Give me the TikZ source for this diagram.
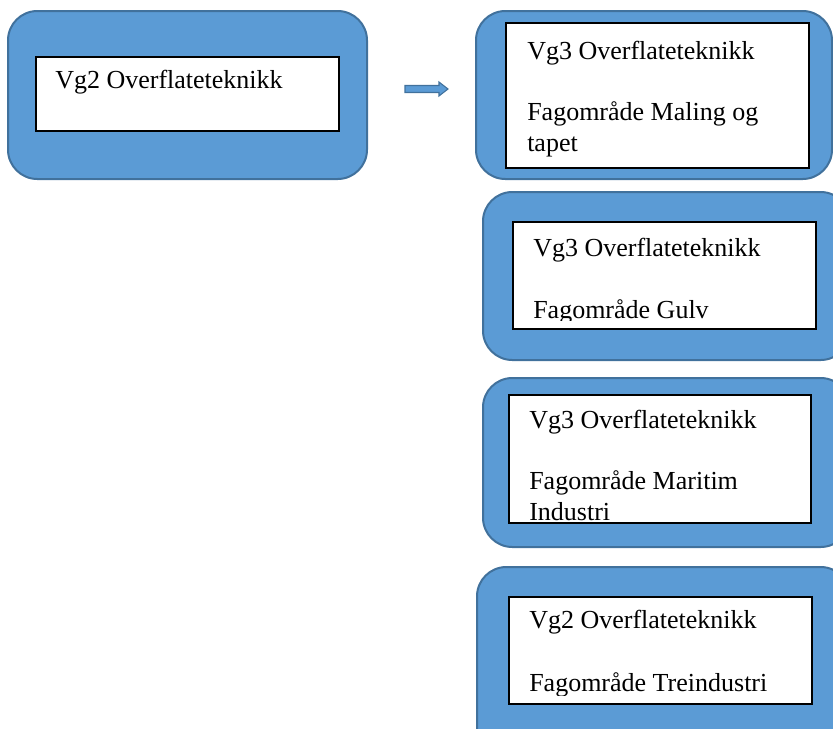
\documentclass[tikz,border=0pt]{standalone}
\usepackage{fontspec}
\setmainfont{Liberation Serif}
\usetikzlibrary{positioning}
\definecolor{boxblue}{HTML}{5B9BD5}
\definecolor{boxedge}{HTML}{41719C}
\tikzset{
  outerbox/.style={draw=boxedge,fill=boxblue,line width=1.5pt,rounded corners=22pt},
  innerbox/.style={draw=black,fill=white,line width=0.8pt,rectangle,inner sep=0pt},
  boxtext/.style={anchor=base west,inner sep=0pt,font=\fontsize{19.5}{23}\selectfont},
  blockarrow/.style={draw=boxedge,fill=boxblue,line width=0.8pt}
}
\begin{document}
\begin{tikzpicture}[x=0.75pt,y=-0.75pt]
\useasboundingbox (0,0) rectangle (833,729);
\clip (0,0) rectangle (833,729);
% outer boxes
\draw[outerbox] (8,11) rectangle (367,179);
\draw[outerbox] (476,11) rectangle (832,179);
\draw[outerbox] (483,192) rectangle (850,360);
\draw[outerbox] (483,378) rectangle (850,547);
\draw[outerbox] (477,567) rectangle (850,770);
% inner boxes
\node[innerbox,minimum width=227.25pt,minimum height=55.5pt] (vg2) at (187.5,94) {};
\node[innerbox,minimum width=227.25pt,minimum height=108.75pt] (maling) at (657.5,95.5) {};
\node[innerbox,minimum width=227.25pt,minimum height=80.25pt] (gulv) at (664.5,275.5) {};
\node[innerbox,minimum width=226.5pt,minimum height=96pt] (maritim) at (660,459) {};
\node[innerbox,minimum width=227.25pt,minimum height=80.25pt] (tre) at (660.5,650.5) {};
% arrow
\draw[blockarrow] (405,85.5) -- (439,85.5) -- (439,82) -- (448,89) -- (439,96) -- (439,92.5) -- (405,92.5) -- cycle;
% texts
\node[boxtext] (vg2a) at (55,88) {Vg2 Overflateteknikk};
\node[boxtext] (malinga) at (527,59) {Vg3 Overflateteknikk};
\node[boxtext] (malingb) at (527,120) {Fagområde Maling og};
\node[boxtext] (malingc) at (527,151) {tapet};
\begin{scope}
\clip ([yshift=7pt]gulv.south west) rectangle (gulv.north east);
\node[boxtext] (gulva) at (533,256) {Vg3 Overflateteknikk};
\node[boxtext] (gulvb) at (533,318) {Fagområde Gulv};
\end{scope}
\node[boxtext] (maritima) at (529,428) {Vg3 Overflateteknikk};
\node[boxtext] (maritimb) at (529,489) {Fagområde Maritim};
\node[boxtext] (maritimc) at (529,520) {Industri};
\begin{scope}
\clip ([yshift=7pt]tre.south west) rectangle (tre.north east);
\node[boxtext] (trea) at (529,628) {Vg2 Overflateteknikk};
\node[boxtext] (treb) at (529,691) {Fagområde Treindustri};
\end{scope}
\end{tikzpicture}
\end{document}
